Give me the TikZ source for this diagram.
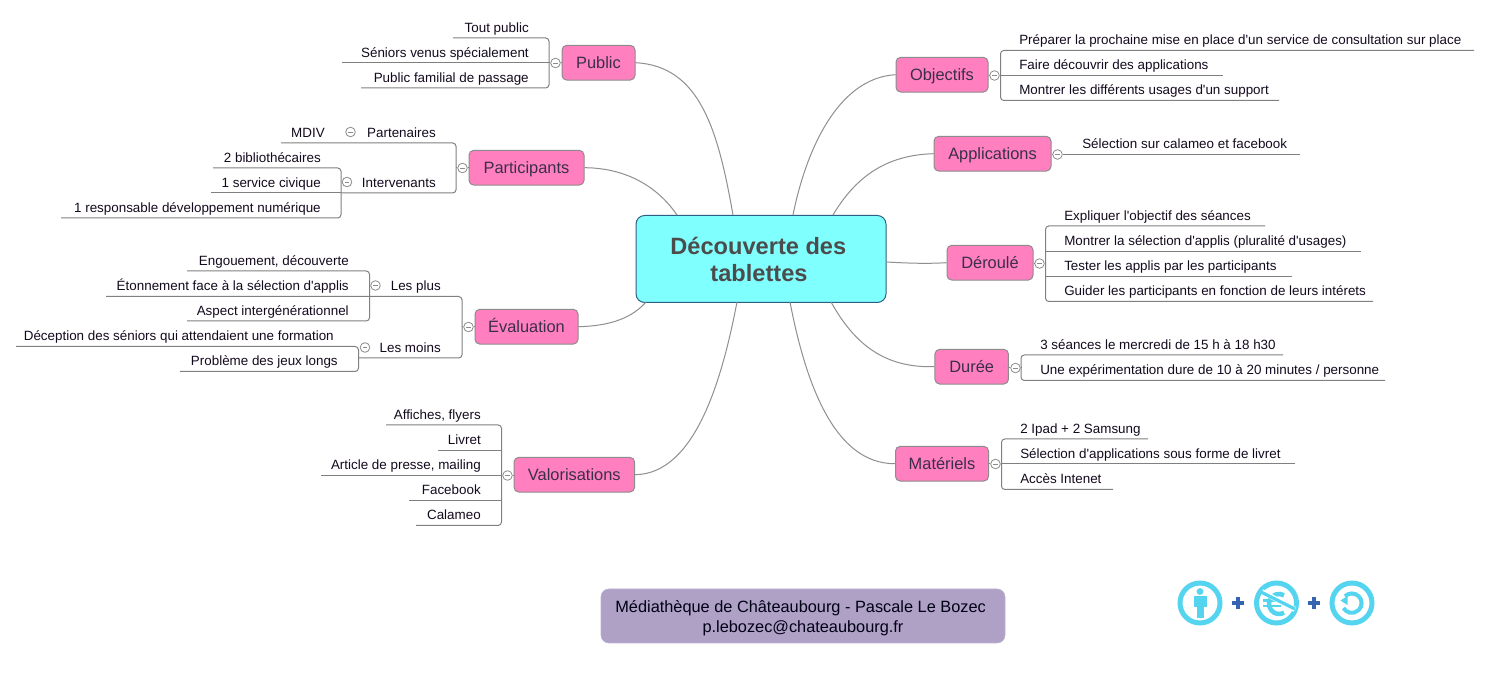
\documentclass[tikz,border=0pt]{standalone}
\usepackage{fontspec}
\newfontfamily\plainsans{Liberation Sans}
\usetikzlibrary{arrows.meta}
\definecolor{pinkbox}{HTML}{FF7FBF}
\definecolor{rootfill}{HTML}{80FFFF}
\definecolor{rootedge}{HTML}{2F5F80}
\definecolor{boxedge}{HTML}{8C8C8C}
\definecolor{wirecol}{HTML}{808080}
\definecolor{curvecol}{HTML}{8F8F8F}
\definecolor{topictext}{HTML}{3A2E4C}
\definecolor{leaftext}{HTML}{140A1E}
\definecolor{footfill}{HTML}{AFA0C6}
\definecolor{footedge}{HTML}{BDB2D0}
\definecolor{icon}{HTML}{55D4F0}
\definecolor{plusc}{HTML}{3565B0}
\tikzset{
  wire/.style={draw=wirecol,line width=0.75pt,rounded corners=2.5pt},
  curve/.style={draw=curvecol,line width=0.75pt},
  topic/.style={draw=boxedge,fill=pinkbox,rounded corners=3.5pt,line width=0.75pt,
    inner sep=0pt,minimum height=26pt,font=\plainsans\fontsize{12.3}{14}\selectfont,
    text=topictext,text height=10.4pt,text depth=2.4pt},
  leafl/.style={anchor=base east,inner sep=0pt,yshift=4.3pt,text=leaftext,font=\plainsans\fontsize{10.05}{12}\selectfont},
  leafr/.style={anchor=base west,inner sep=0pt,yshift=4.3pt,text=leaftext,font=\plainsans\fontsize{10.05}{12}\selectfont},
  togglec/.style={circle,draw=boxedge,fill=white,line width=0.6pt,inner sep=0pt,minimum size=7.2pt},
  minusm/.style={draw=boxedge,line width=0.6pt},
  iconring/.style={circle,draw=icon,line width=3.75pt,inner sep=0pt,minimum size=30pt},
  pluss/.style={draw=plusc,line width=2.6pt}
}
% name, style, text x, line y, far x, bracket x, text
\newcommand{\leafitem}[7]{%
  \coordinate (#1f) at (#5,#4);
  \coordinate (#1b) at (#6,#4);
  \node[#2] (#1) at (#3,#4) {#7};
}
% name, x, y
\newcommand{\togglemark}[3]{%
  \node[togglec] (#1) at (#2,#3) {};
  \draw[minusm] ([xshift=-1.6pt]#1.center) -- ([xshift=1.6pt]#1.center);
}
\begin{document}
\begin{tikzpicture}[x=0.75pt,y=-0.75pt]
\useasboundingbox (0,0) rectangle (1490,680);
\fill[white] (0,0) rectangle (1490,680);

% attachment points on the central box
\coordinate (rPub) at (733,215);
\coordinate (rPar) at (677,215);
\coordinate (rEva) at (646,302);
\coordinate (rVal) at (737,302);
\coordinate (rObj) at (793,215);
\coordinate (rApp) at (833,215);
\coordinate (rDer) at (886,262);
\coordinate (rDur) at (831,302);
\coordinate (rMat) at (790,302);

% topics
\node[topic,minimum width=54.75pt] (pub) at (598.5,62.7) {Public};
\node[topic,minimum width=86.25pt] (par) at (526.5,167.7) {Participants};
\node[topic,minimum width=77.25pt] (eva) at (526.5,326.7) {Évaluation};
\node[topic,minimum width=90.4pt] (val) at (574.3,474.7) {Valorisations};
\node[topic,minimum width=69pt] (obj) at (942,74.7) {Objectifs};
\node[topic,minimum width=87.75pt] (app) at (992.5,153.7) {Applications};
\node[topic,minimum width=64.5pt] (der) at (990,262.7) {Déroulé};
\node[topic,minimum width=55.1pt] (dur) at (971.7,366.7) {Durée};
\node[topic,minimum width=69.75pt] (mat) at (942,463.7) {Matériels};

% central box
\node[draw=rootedge,fill=rootfill,rounded corners=6.5pt,line width=0.75pt,inner sep=0pt,
  minimum width=187.5pt,minimum height=65.25pt,align=center,text=black!70,
  font=\plainsans\fontsize{17.7}{20.25}\bfseries\selectfont] (root) at (761,259)
  {Découverte des\rule{4pt}{0pt}\\tablettes\rule{3pt}{0pt}};

% curved branches
\draw[curve] (pub.east) .. controls (700,66) and (718,130) .. (rPub);
\draw[curve] (par.east) .. controls (630,168) and (660,190) .. (rPar);
\draw[curve] (eva.east) .. controls (610,326) and (632,318) .. (rEva);
\draw[curve] (val.east) .. controls (695,474) and (722,380) .. (rVal);
\draw[curve] (obj.west) .. controls (838,78) and (806,150) .. (rObj);
\draw[curve] (app.west) .. controls (885,155) and (855,178) .. (rApp);
\draw[curve] (der.west) .. controls (925,264) and (905,263) .. (rDer);
\draw[curve] (dur.west) .. controls (885,368) and (855,345) .. (rDur);
\draw[curve] (mat.west) .. controls (835,464) and (806,385) .. (rMat);

% Public
\leafitem{pa}{leafl}{529}{38}{453}{549}{Tout public}
\leafitem{pb}{leafl}{529}{63}{342}{549}{Séniors venus spécialement}
\leafitem{pc}{leafl}{529}{88}{361}{549}{Public familial de passage}
\draw[wire] (paf) -- (pab) -- (pcb) -- (pcf);
\togglemark{tp}{555.5}{63}
\draw[wire] (pbf) -- (tp.west);
\draw[wire] (tp.east) -- (pub.west |- tp.east);

% Participants
\leafitem{qa}{leafl}{436}{143}{345}{456}{Partenaires}
\leafitem{qb}{leafl}{436}{193}{341}{456}{Intervenants}
\leafitem{qc}{leafl}{325}{143}{281}{345}{MDIV}
\leafitem{qd}{leafl}{321}{168}{213}{341}{2 bibliothécaires}
\leafitem{qe}{leafl}{321}{193}{211}{341}{1 service civique}
\leafitem{qf}{leafl}{321}{218}{61}{341}{1 responsable développement numérique}
\draw[wire] (qcf) -- (qab) -- (qbb) -- (qbf);
\draw[wire] (qdf) -- (qdb) -- (qfb) -- (qff);
\draw[wire] (qef) -- (qeb);
\togglemark{tq}{462.5}{168}
\togglemark{tqa}{350.5}{132}
\togglemark{tqb}{347}{182}
\draw[wire] (qab |- tq.west) -- (tq.west);
\draw[wire] (tq.east) -- (par.west |- tq.east);

% Evaluation
\leafitem{ra}{leafl}{441}{296.5}{370}{462}{Les plus}
\leafitem{rb}{leafl}{441}{358}{358.5}{462}{Les moins}
\leafitem{rc}{leafl}{349}{271}{187}{369.5}{Engouement, découverte}
\leafitem{rd}{leafl}{349}{296.5}{106}{369.5}{Étonnement face à la sélection d'applis}
\leafitem{re}{leafl}{349}{321}{187}{369.5}{Aspect intergénérationnel}
\leafitem{rf}{leafl}{334}{346.5}{16}{358.5}{Déception des séniors qui attendaient une formation}
\leafitem{rg}{leafl}{338}{371.5}{180}{358.5}{Problème des jeux longs}
\draw[wire] (rdf) -- (rab) -- (rbb) -- (rbf);
\draw[wire] (rcf) -- (rcb) -- (reb) -- (ref);
\draw[wire] (rff) -- (rfb) -- (rgb) -- (rgf);
\togglemark{tr}{468.5}{327}
\togglemark{tra}{375.5}{285.5}
\togglemark{trb}{365}{347.5}
\draw[wire] (rab |- tr.west) -- (tr.west);
\draw[wire] (tr.east) -- (eva.west |- tr.east);

% Valorisations
\leafitem{va}{leafl}{481}{425}{386}{501.5}{Affiches, flyers}
\leafitem{vb}{leafl}{481}{450.5}{438}{501.5}{Livret}
\leafitem{vc}{leafl}{481}{475.5}{321}{501.5}{Article de presse, mailing}
\leafitem{vd}{leafl}{481}{500.5}{409}{501.5}{Facebook}
\leafitem{ve}{leafl}{481}{525.5}{416}{501.5}{Calameo}
\draw[wire] (vaf) -- (vab) -- (veb) -- (vef);
\draw[wire] (vbf) -- (vbb);
\draw[wire] (vdf) -- (vdb);
\togglemark{tv}{507.5}{475.5}
\draw[wire] (vcf) -- (tv.west);
\draw[wire] (tv.east) -- (val.west |- tv.east);

% Objectifs
\leafitem{oa}{leafr}{1019}{50.5}{1474}{1000.5}{Préparer la prochaine mise en place d'un service de consultation sur place}
\leafitem{ob}{leafr}{1019}{75.5}{1222.5}{1000.5}{Faire découvrir des applications}
\leafitem{oc}{leafr}{1019}{100.5}{1279}{1000.5}{Montrer les différents usages d'un support}
\draw[wire] (oaf) -- (oab) -- (ocb) -- (ocf);
\togglemark{to}{994.5}{75.5}
\draw[wire] (obf) -- (to.east);
\draw[wire] (to.west) -- (obj.east |- to.west);

% Applications
\leafitem{aa}{leafr}{1082}{154.5}{1300}{1063}{Sélection sur calameo et facebook}
\togglemark{ta}{1057.5}{154.5}
\draw[wire] (aaf) -- (ta.east);
\draw[wire] (ta.west) -- (app.east |- ta.west);

% Deroule
\leafitem{da}{leafr}{1064}{226}{1265}{1045.5}{Expliquer l'objectif des séances}
\leafitem{db}{leafr}{1064}{251.5}{1361}{1045.5}{Montrer la sélection d'applis (pluralité d'usages)}
\leafitem{dc}{leafr}{1064}{276.5}{1292}{1045.5}{Tester les applis par les participants}
\leafitem{dd}{leafr}{1064}{301.5}{1373}{1045.5}{Guider les participants en fonction de leurs intérets}
\draw[wire] (daf) -- (dab) -- (ddb) -- (ddf);
\draw[wire] (dbf) -- (dbb);
\draw[wire] (dcf) -- (dcb);
\togglemark{td}{1039.5}{263.5}
\draw[wire] (dab |- td.east) -- (td.east);
\draw[wire] (td.west) -- (der.east |- td.west);

% Duree
\leafitem{ua}{leafr}{1040}{355}{1283}{1021}{3 séances le mercredi de 15 h à 18 h30}
\leafitem{ub}{leafr}{1040}{380.5}{1385}{1021}{Une expérimentation dure de 10 à 20 minutes / personne}
\draw[wire] (uaf) -- (uab) -- (ubb) -- (ubf);
\togglemark{tu}{1015.5}{368}
\draw[wire] (uab |- tu.east) -- (tu.east);
\draw[wire] (tu.west) -- (dur.east |- tu.west);

% Materiels
\leafitem{ma}{leafr}{1020}{439}{1148}{1001.5}{2 Ipad + 2 Samsung}
\leafitem{mb}{leafr}{1020}{464}{1295}{1001.5}{Sélection d'applications sous forme de livret}
\leafitem{mc}{leafr}{1020}{489.5}{1113}{1001.5}{Accès Intenet}
\draw[wire] (maf) -- (mab) -- (mcb) -- (mcf);
\togglemark{tm}{995.5}{464}
\draw[wire] (mbf) -- (tm.east);
\draw[wire] (tm.west) -- (mat.east |- tm.west);

% footer
\node[draw=footedge,fill=footfill,rounded corners=6pt,line width=0.5pt,inner sep=0pt,
  minimum width=303pt,minimum height=40.5pt,align=center,text=black!92!blue,
  font=\plainsans\fontsize{12.25}{14.5}\selectfont] (foot) at (803,616)
  {\rule{0pt}{12.3pt}Médiathèque de Châteaubourg - Pascale Le Bozec\rule{3.6pt}{0pt}\\p.lebozec@chateaubourg.fr};

% licence icons
\node[iconring] (iby) at (1200,603) {};
\fill[icon] (1200,591.5) circle[radius=3.4];
\fill[icon] (1194,596) rectangle (1206.5,607.5);
\fill[icon] (1196.7,607) rectangle (1204,618);

\node[iconring] (inc) at (1276.5,603) {};
\draw[icon,line width=3.4pt] (1284,595.3) arc[start angle=-60,end angle=-300,radius=10];
\draw[icon,line width=2.2pt] (1263,600.5) -- (1281,600.5);
\draw[icon,line width=2.2pt] (1263,606) -- (1281,606);
\draw[white,line width=3.8pt] (1262,591.5) -- (1295,609.5);
\draw[icon,line width=2.4pt] (1261,592) -- (1295,609);

\node[iconring] (isa) at (1352,603) {};
\draw[icon,line width=3pt] (1345,596.3) arc[start angle=-135,end angle=150,radius=9.7];
\fill[icon] (1340.5,600.5) -- (1347.5,596) -- (1347.5,605) -- cycle;

\node[inner sep=0pt,minimum size=8.8pt] (plusa) at (1238,603) {};
\draw[pluss] (plusa.west) -- (plusa.east);
\draw[pluss] (plusa.north) -- (plusa.south);
\node[inner sep=0pt,minimum size=8.8pt] (plusb) at (1314,603) {};
\draw[pluss] (plusb.west) -- (plusb.east);
\draw[pluss] (plusb.north) -- (plusb.south);
\end{tikzpicture}
\end{document}
